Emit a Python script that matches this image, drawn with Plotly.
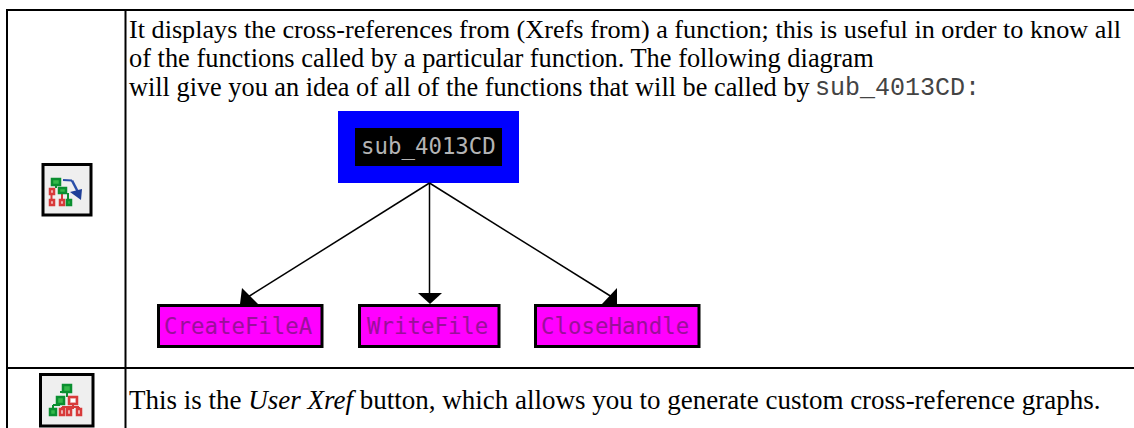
import plotly.graph_objects as go

W, H = 1134, 428
BLACK = "#000000"

# content
text_lines = [
    "It displays the cross-references from (Xrefs from) a function; this is useful in order to know all",
    "of the functions called by a particular function. The following diagram",
    "will give you an idea of all of the functions that will be called by ",
]
last_line = "This is the <i>User Xref</i> button, which allows you to generate custom cross-reference graphs."
code_name = "sub_4013CD:"
root_name = "sub_4013CD"
child_names = ["CreateFileA", "WriteFile", "CloseHandle"]

# geometry (image pixels)
root_box = (338, 111, 519, 183)
root_inner = (355, 128, 502, 166)
root_centre = (429.5, 183)
child_boxes = [(158.5, 305.5, 322, 346.5), (359.5, 305.5, 499, 346.5), (535.5, 305.5, 699, 346.5)]
line_ends = [(248, 297), (429.5, 295), (612, 297)]
arrow_heads = [
    [(242, 288), (240, 304), (258, 304)],
    [(418, 293), (442, 293), (430, 304)],
    [(617, 288), (617, 304), (602, 304)],
]

fig = go.Figure()
shapes, ann = [], []


def rect(b, fill=None, line=None, width=0):
    shapes.append(dict(type="rect", x0=b[0], y0=b[1], x1=b[2], y1=b[3],
                       fillcolor=fill or "rgba(0,0,0,0)", layer="above",
                       line=dict(color=line or "rgba(0,0,0,0)", width=width)))


def seg(x0, y0, x1, y1, color=BLACK, width=1.5):
    shapes.append(dict(type="line", x0=x0, y0=y0, x1=x1, y1=y1, layer="above",
                       line=dict(color=color, width=width)))


def poly(points, fill):
    p = "M" + " L".join(f"{x},{y}" for x, y in points) + " Z"
    shapes.append(dict(type="path", path=p, fillcolor=fill, layer="above",
                       line=dict(color=fill, width=0)))


def label(x, y, s, font, size, color=BLACK, anchor="left"):
    ann.append(dict(x=x, y=y, text=s, showarrow=False, xanchor=anchor, yanchor="middle",
                    xref="x", yref="y", font=dict(family=font, size=size, color=color)))


# table grid
for y in (10, 368):
    seg(6, y, W, y, width=2)
seg(7, 10, 7, H, width=2)
seg(125.5, 10, 125.5, H, width=2)

# body text
SERIF = "Liberation Serif"
for s, y, fs in zip(text_lines, (29, 58, 87), (26.2, 26.4, 26.3)):
    label(127, y, s, SERIF, fs)
label(127, 400, last_line, SERIF, 27)
label(813, 88.5, code_name, "Liberation Mono", 25, color="#444444")

# diagram
rect(root_box, fill="#0000ff")
rect(root_inner, fill=BLACK)
label(428, 146, root_name, "DejaVu Sans Mono", 22.4, color="#b4b4b4", anchor="center")

for (tx, ty), head in zip(line_ends, arrow_heads):
    seg(root_centre[0], root_centre[1], tx, ty, width=1.5)
    poly(head, BLACK)

for b, name in zip(child_boxes, child_names):
    rect(b, fill="#ff00ff", line=BLACK, width=3)
    label((b[0] + b[2]) / 2 - 2, (b[1] + b[3]) / 2, name, "DejaVu Sans Mono", 22.4, color="#9a109a", anchor="center")

# toolbar icons
GREEN, DKG = "#35b84a", "#0b8f30"
RED = "#d83a3a"
BLUE = "#2a4fa8"


def icon_box(x0, y0, x1, y1):
    rect((x0, y0, x1, y1), fill="#efefef", line=BLACK, width=3)


def g(x0, y0, x1, y1):
    rect((x0, y0, x1, y1), fill=GREEN, line=DKG, width=2.5)


def r(x0, y0, x1, y1):
    rect((x0, y0, x1, y1), fill="#f6d8d8", line=RED, width=2.5)


icon_box(43, 164.5, 91, 215)
seg(56, 185, 56, 188, color=DKG, width=2)
seg(51.5, 194, 51.5, 199, color=RED, width=2)
seg(62, 193, 62, 199, color=RED, width=2)
seg(68, 193, 68, 199, color=DKG, width=2)
g(52, 179, 60, 185)
g(59, 188, 66, 193)
r(50, 189, 54, 194)
r(50, 200, 54, 205)
r(60, 200, 64, 205)
g(67, 200, 71, 205)
seg(63, 180, 72, 180.5, color=BLUE, width=2)
seg(72, 180.5, 79, 194, color=BLUE, width=2.5)
poly([(70, 192), (82, 189), (81, 200)], "#1f3f98")

icon_box(40.5, 374.5, 93, 426)
seg(67, 392, 67, 397, color=DKG, width=2)
seg(60, 392, 67, 392, color=DKG, width=2)
seg(53, 405, 60, 405, color=DKG, width=2)
seg(53, 405, 53, 409, color=DKG, width=2)
seg(73, 405, 73, 409, color=RED, width=2)
seg(62, 407, 79, 407, color=RED, width=2)
seg(62, 407, 62, 409, color=RED, width=2)
seg(79, 407, 79, 409, color=RED, width=2)
g(63, 385, 71, 392)
g(57, 397, 64, 404)
r(69, 397, 77, 404)
rect((71, 399, 75, 402), fill="#ffffff")
g(50, 409, 56, 415)
r(60, 409, 64, 415)
r(67, 409, 71, 415)
r(77, 409, 81, 415)

fig.update_layout(
    width=W, height=H, margin=dict(l=0, r=0, t=0, b=0),
    paper_bgcolor="#ffffff", plot_bgcolor="#ffffff", showlegend=False,
    xaxis=dict(range=[0, W], visible=False, fixedrange=True),
    yaxis=dict(range=[H, 0], visible=False, fixedrange=True),
    shapes=shapes, annotations=ann,
)
fig.write_html("out.html", config=dict(displayModeBar=False),
               post_script="document.body.style.margin='0';document.body.style.overflow='hidden';")
